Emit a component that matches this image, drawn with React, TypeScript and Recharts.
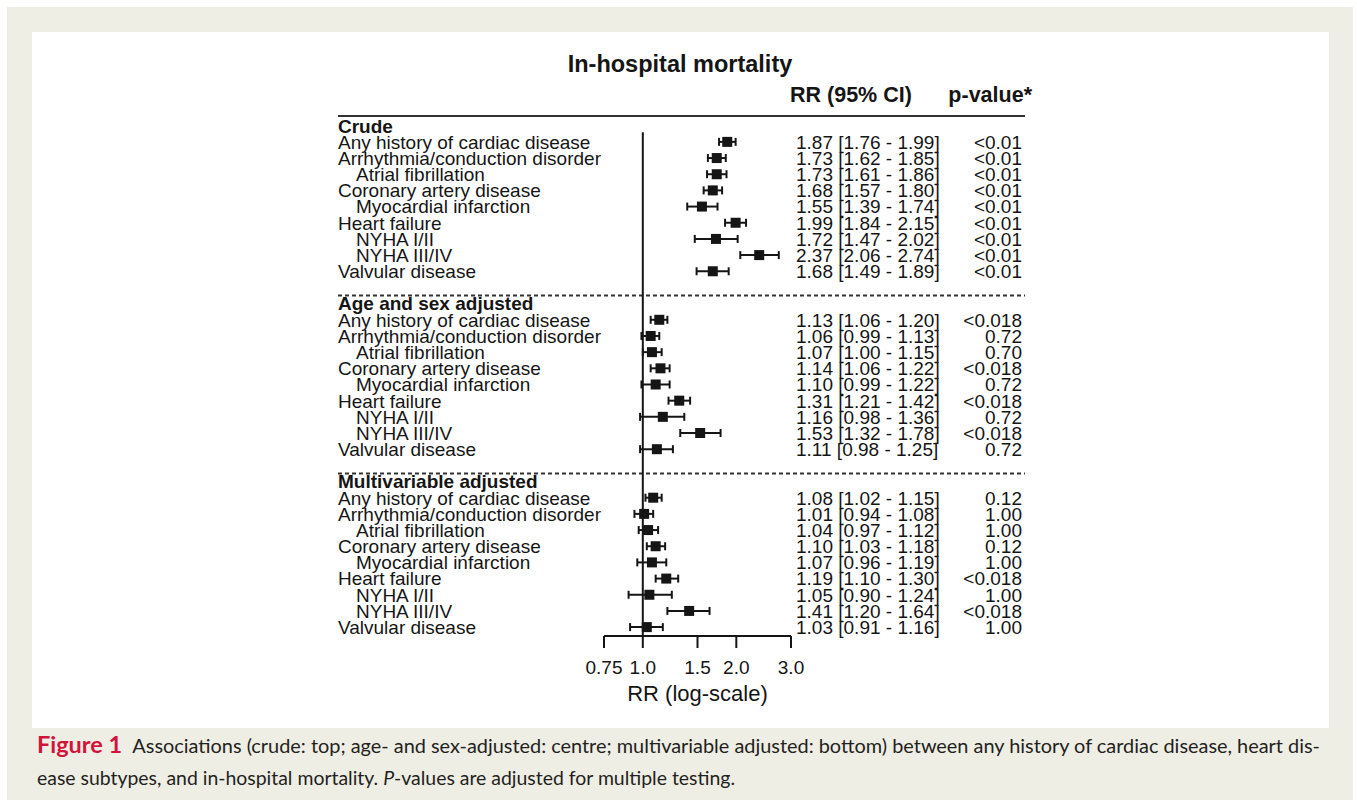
import { ScatterChart, Scatter, XAxis, YAxis, ErrorBar, ReferenceLine, Label } from 'recharts';

const sections = ['Crude', 'Age and sex adjusted', 'Multivariable adjusted'];
const conditions = [
  'Any history of cardiac disease',
  'Arrhythmia/conduction disorder',
  'Atrial fibrillation',
  'Coronary artery disease',
  'Myocardial infarction',
  'Heart failure',
  'NYHA I/II',
  'NYHA III/IV',
  'Valvular disease',
];
const indented = [false, false, true, false, true, false, true, true, false];

const crudeRR = [1.87, 1.73, 1.73, 1.68, 1.55, 1.99, 1.72, 2.37, 1.68];
const crudeLow = [1.76, 1.62, 1.61, 1.57, 1.39, 1.84, 1.47, 2.06, 1.49];
const crudeHigh = [1.99, 1.85, 1.86, 1.8, 1.74, 2.15, 2.02, 2.74, 1.89];
const crudeP = ['<0.01', '<0.01', '<0.01', '<0.01', '<0.01', '<0.01', '<0.01', '<0.01', '<0.01'];

const ageRR = [1.13, 1.06, 1.07, 1.14, 1.1, 1.31, 1.16, 1.53, 1.11];
const ageLow = [1.06, 0.99, 1.0, 1.06, 0.99, 1.21, 0.98, 1.32, 0.98];
const ageHigh = [1.2, 1.13, 1.15, 1.22, 1.22, 1.42, 1.36, 1.78, 1.25];
const ageP = ['<0.018', '0.72', '0.70', '<0.018', '0.72', '<0.018', '0.72', '<0.018', '0.72'];

const multiRR = [1.08, 1.01, 1.04, 1.1, 1.07, 1.19, 1.05, 1.41, 1.03];
const multiLow = [1.02, 0.94, 0.97, 1.03, 0.96, 1.1, 0.9, 1.2, 0.91];
const multiHigh = [1.15, 1.08, 1.12, 1.18, 1.19, 1.3, 1.24, 1.64, 1.16];
const multiP = ['0.12', '1.00', '1.00', '0.12', '1.00', '<0.018', '1.00', '<0.018', '1.00'];

const xTicks = [0.75, 1.0, 1.5, 2.0, 3.0];
const xTickLabels = ['0.75', '1.0', '1.5', '2.0', '3.0'];

const groups = [
  { rr: crudeRR, lo: crudeLow, hi: crudeHigh, p: crudeP },
  { rr: ageRR, lo: ageLow, hi: ageHigh, p: ageP },
  { rr: multiRR, lo: multiLow, hi: multiHigh, p: multiP },
];

type Row = {
  pos: number;
  label: string;
  header: boolean;
  indent: boolean;
  rr?: number;
  err?: [number, number];
  ci?: string;
  p?: string;
};

const fmt = (v: number) => v.toFixed(2);

// each section: header row, 9 rows, one blank slot for the dashed rule
const rows: Row[] = [];
groups.forEach((g, s) => {
  const base = s * 11;
  rows.push({ pos: base - 1, label: sections[s], header: true, indent: false });
  conditions.forEach((c, i) => {
    rows.push({
      pos: base + i,
      label: c,
      header: false,
      indent: indented[i],
      rr: g.rr[i],
      err: [g.rr[i] - g.lo[i], g.hi[i] - g.rr[i]],
      ci: `${fmt(g.rr[i])} [${fmt(g.lo[i])} - ${fmt(g.hi[i])}]`,
      p: g.p[i],
    });
  });
});

const points = rows.filter((r) => !r.header);
const rowByPos = new Map(rows.map((r) => [r.pos, r]));
const yTicks = rows.map((r) => r.pos);

const FONT = '"Liberation Sans", Arial, Helvetica, sans-serif';
const INK = '#151515';

function RowTick(props: any) {
  const { x, y, payload } = props;
  const r = rowByPos.get(payload.value);
  if (!r) return null;
  return (
    <g fontFamily={FONT} fontSize={19} fill={INK}>
      <text x={x - 266 + (r.indent ? 18 : 0)} y={y} dy="0.36em" fontWeight={r.header ? 700 : 400}>
        {r.label}
      </text>
      {r.ci && (
        <text x={x + 192} y={y} dy="0.36em">
          {r.ci}
        </text>
      )}
      {r.p && (
        <text x={x + 418} y={y} dy="0.36em" textAnchor="end">
          {r.p}
        </text>
      )}
    </g>
  );
}

function Square(props: any) {
  const { cx, cy } = props;
  return <rect x={cx - 5} y={cy - 5} width={10} height={10} fill={INK} />;
}

const ruleShape = (dashed: boolean) => (p: any) => (
  <line
    x1={p.x1 - 266}
    x2={p.x2 + 234}
    y1={p.y1}
    y2={p.y2}
    stroke="#333"
    strokeWidth={2}
    strokeDasharray={dashed ? '4 3' : undefined}
  />
);

export default function App() {
  return (
    <div style={{ position: 'absolute', left: 0, top: 0, width: 1357, height: 807, background: '#fff' }}>
      <div style={{ position: 'absolute', left: 7, top: 7, width: 1346, height: 793, background: '#efeee5' }} />
      <div style={{ position: 'absolute', left: 32, top: 32, width: 1297, height: 696, background: '#fff' }}>
        <ScatterChart width={1297} height={696} margin={{ top: 84, right: 538, bottom: 0, left: 0 }}>
          <XAxis
            type="number"
            dataKey="rr"
            scale="log"
            domain={[0.75, 3]}
            allowDataOverflow
            ticks={xTicks}
            interval={0}
            tickFormatter={(v: number) => xTickLabels[xTicks.indexOf(v)] ?? String(v)}
            height={92}
            tickSize={12}
            tickMargin={13}
            stroke={INK}
            strokeWidth={2}
            tick={{ fontSize: 19, fill: INK, fontFamily: FONT }}
          >
            <Label
              value="RR (log-scale)"
              position="insideBottom"
              offset={27}
              style={{ fontSize: 22, fill: INK, fontFamily: FONT }}
            />
          </XAxis>
          <YAxis
            type="number"
            dataKey="pos"
            domain={[-1.6, 30.55]}
            allowDataOverflow
            reversed
            ticks={yTicks}
            interval={0}
            width={572}
            axisLine={false}
            tickLine={false}
            tickSize={0}
            tickMargin={0}
            tick={<RowTick />}
          />
          <ReferenceLine y={-1.6} shape={ruleShape(false)} />
          <ReferenceLine y={9.5} shape={ruleShape(true)} />
          <ReferenceLine y={20.5} shape={ruleShape(true)} />
          <ReferenceLine
            segment={[
              { x: 1, y: -0.6 },
              { x: 1, y: 30.55 },
            ]}
            stroke={INK}
            strokeWidth={2}
          />
          <Scatter data={points} dataKey="rr" isAnimationActive={false} shape={<Square />}>
            <ErrorBar dataKey="err" direction="x" width={4} stroke={INK} strokeWidth={2} />
          </Scatter>
        </ScatterChart>
      </div>
      <svg width={1357} height={807} style={{ position: 'absolute', left: 0, top: 0, pointerEvents: 'none' }}>
        <g fontFamily={FONT} fill={INK} fontWeight={700}>
          <text x={680} y={64} dy="0.36em" textAnchor="middle" fontSize={23.5}>
            In-hospital mortality
          </text>
          <text x={790} y={94} dy="0.36em" fontSize={21.5}>
            RR (95% CI)
          </text>
          <text x={1032} y={94} dy="0.36em" fontSize={21.5} textAnchor="end">
            p-value*
          </text>
        </g>
        <g fontFamily="Lato, 'Open Sans', sans-serif" fontSize={19.5} fill="#231f20">
          <text x={37} y={753} textLength={1283} lengthAdjust="spacingAndGlyphs">
            <tspan fill="#d2143a" fontWeight={700} fontSize={23}>
              Figure 1
            </tspan>
            <tspan dx={10}>
              Associations (crude: top; age- and sex-adjusted: centre; multivariable adjusted: bottom) between any history of cardiac disease, heart dis-
            </tspan>
          </text>
          <text x={37} y={785} textLength={698} lengthAdjust="spacingAndGlyphs">
            ease subtypes, and in-hospital mortality. <tspan fontStyle="italic">P</tspan>-values are adjusted for multiple testing.
          </text>
        </g>
      </svg>
    </div>
  );
}
